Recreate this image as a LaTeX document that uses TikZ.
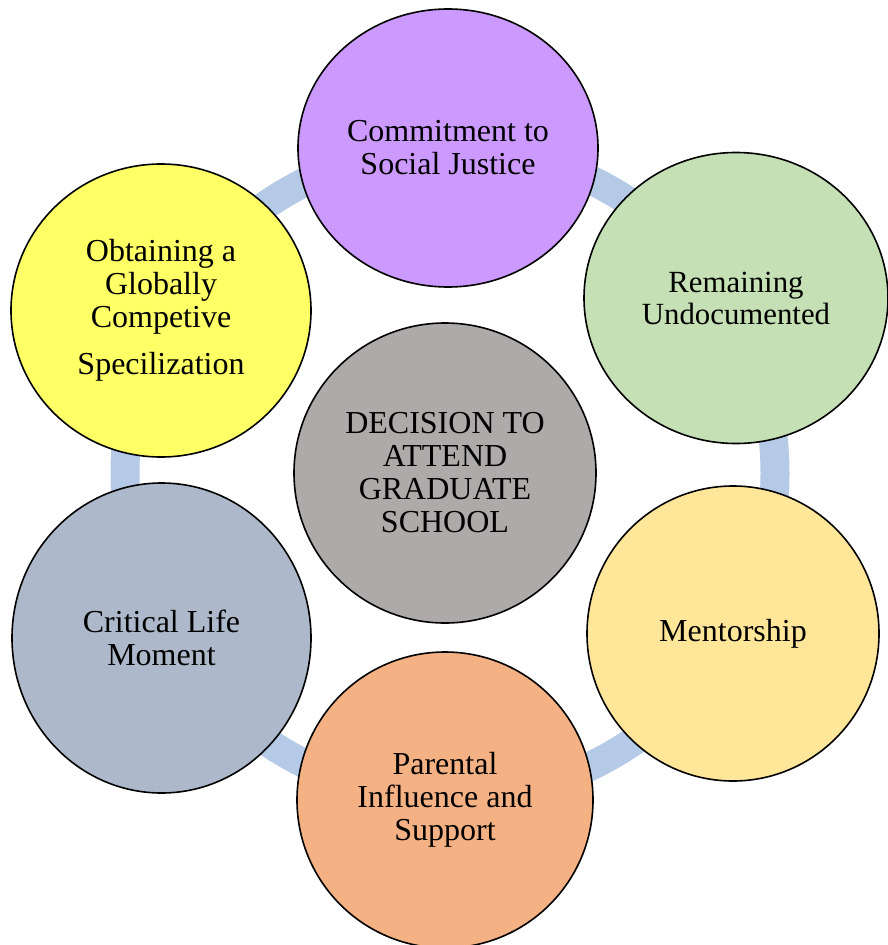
\documentclass[tikz,border=0pt]{standalone}
\usepackage{fontspec}
\setmainfont{Liberation Serif}
\usetikzlibrary{shapes.geometric}
\definecolor{ringblue}{HTML}{B4CAE6}
\definecolor{cpurple}{HTML}{CC99FF}
\definecolor{cgreen}{HTML}{C5E0B4}
\definecolor{cpale}{HTML}{FFE699}
\definecolor{corange}{HTML}{F4B183}
\definecolor{cslate}{HTML}{ADB9CA}
\definecolor{cyellow}{HTML}{FFFF66}
\definecolor{cgrey}{HTML}{AEAAAA}
\tikzset{
  bubble/.style={ellipse, draw=black, line width=1.6pt, inner sep=0pt,
    align=center, text=black, font=\fontsize{32}{33}\selectfont},
  ringline/.style={draw=ringblue, line width=29pt}
}
\begin{document}
\begin{tikzpicture}[x=1pt,y=-1pt]
\useasboundingbox (0,0) rectangle (888,945);
\coordinate (ringc) at (450,473);
\draw[ringline] (ringc) circle[radius=325pt];
\node[bubble, fill=cpurple, minimum width=300pt, minimum height=278pt] (justice) at (448,148) {Commitment to\\Social Justice};
\node[bubble, fill=cgreen, minimum width=304pt, minimum height=291pt, font=\fontsize{30.8}{32}\selectfont] (undoc) at (736,298) {Remaining\\Undocumented};
\node[bubble, fill=cpale, minimum width=292pt, minimum height=295pt] (mentor) at (733,633.5) {Mentorship};
\node[bubble, fill=corange, minimum width=296pt, minimum height=296pt] (parent) at (445,800) {Parental\\Influence and\\Support};
\node[bubble, fill=cslate, minimum width=299pt, minimum height=310pt] (critical) at (161.5,638) {Critical Life\\Moment};
\node[bubble, fill=cyellow, minimum width=300pt, minimum height=293pt] (global) at (161,310.5) {Obtaining a\\Globally\\Competive\\[14pt]Specilization};
\node[bubble, fill=cgrey, minimum width=302pt, minimum height=300pt] (decision) at (445,473) {DECISION TO\\ATTEND\\GRADUATE\\SCHOOL};
\end{tikzpicture}
\end{document}
